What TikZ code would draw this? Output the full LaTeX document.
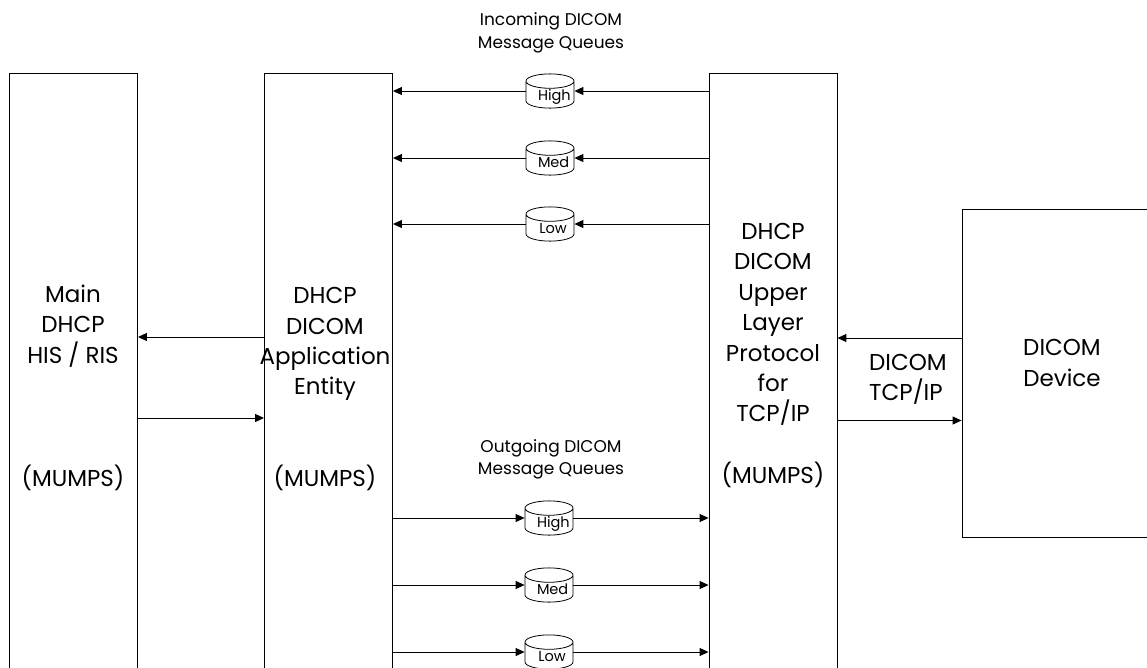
\documentclass[tikz,border=0pt]{standalone}
\usepackage{fontspec}
\setmainfont{Poppins}
\usetikzlibrary{arrows.meta,shapes.geometric}

\begin{document}
\begin{tikzpicture}[
    x=1pt,y=-1pt,
    >={Triangle[length=9pt,width=8pt]},
    block/.style={
        draw=black,
        line width=0.9pt,
        minimum width=128pt,
        minimum height=595pt,
        inner sep=0pt
    },
    device/.style={
        draw=black,
        line width=0.9pt,
        minimum width=186pt,
        minimum height=328pt,
        inner sep=0pt
    },
    queue/.style={
        draw=black,
        cylinder,
        shape border rotate=90,
        shape aspect=0.3,
        line width=0.8pt,
        anchor=shape center,
        text width=36pt,
        text height=10pt,
        text depth=3pt,
        align=center,
        inner xsep=6pt,
        inner ysep=2pt,
        minimum height=34pt,
        execute at begin node=\hspace*{6pt},
        font=\fontsize{14.5}{14.5}\selectfont
    },
    txt/.style={
        align=center,
        inner sep=0pt,
        font=\fontsize{23}{30.4}\selectfont
    },
    small/.style={
        align=center,
        inner sep=0pt,
        font=\fontsize{17}{22.5}\selectfont
    },
    arr/.style={->, line width=1pt}
]
\useasboundingbox (0,0) rectangle (1147,667);

% blocks
\node[block] (main) at (73.5,370.5) {};
\node[block] (entity) at (328.5,370.5) {};
\node[block] (upper) at (773,370.5) {};
\node[device] (dev) at (1055,373) {};

% block texts
\node[txt] (maintxt) at (73,388) {Main\\DHCP\\HIS / RIS\\[93pt](MUMPS)};
\node[txt] (enttxt) at (325,389) {DHCP\\DICOM\\Application\\Entity\\[61pt](MUMPS)};
\node[txt] (uptxt) at (773,355.5) {DHCP\\DICOM\\Upper\\Layer\\Protocol\\for\\TCP/IP\\[31pt](MUMPS)};
\node[txt] (devtxt) at (1062,363) {DICOM\\Device};
\node[txt,align=left] (tcp) at (908,379.5) {DICOM\\TCP/IP};

% queue captions
\node[small] (incap) at (551,33) {Incoming DICOM\\Message Queues};
\node[small] (outcap) at (551,459.5) {Outgoing DICOM\\Message Queues};

% incoming queues
\node[queue] (inhigh) at (550,91) {High};
\node[queue] (inmed) at (550,158) {Med};
\node[queue] (inlow) at (550,224) {Low};

% outgoing queues
\node[queue] (outhigh) at (549,518) {High};
\node[queue] (outmed) at (549,585) {Med};
\node[queue] (outlow) at (549,652) {Low};

% incoming arrows
\foreach \q in {inhigh,inmed,inlow}{
    \draw[arr] (upper.west |- \q.shape center) -- (\q.east |- \q.shape center);
    \draw[arr] (\q.west |- \q.shape center) -- (entity.east |- \q.shape center);
}

% outgoing arrows
\foreach \q in {outhigh,outmed,outlow}{
    \draw[arr] (entity.east |- \q.shape center) -- (\q.west |- \q.shape center);
    \draw[arr] (\q.east |- \q.shape center) -- (upper.west |- \q.shape center);
}

% side arrows
\coordinate (mainin) at (0,337);
\coordinate (mainout) at (0,418);
\coordinate (devin) at (0,338);
\coordinate (devout) at (0,420.5);
\draw[arr] (entity.west |- mainin) -- (main.east |- mainin);
\draw[arr] (main.east |- mainout) -- (entity.west |- mainout);
\draw[arr] (dev.west |- devin) -- (upper.east |- devin);
\draw[arr] (upper.east |- devout) -- (dev.west |- devout);

\end{tikzpicture}
\end{document}
